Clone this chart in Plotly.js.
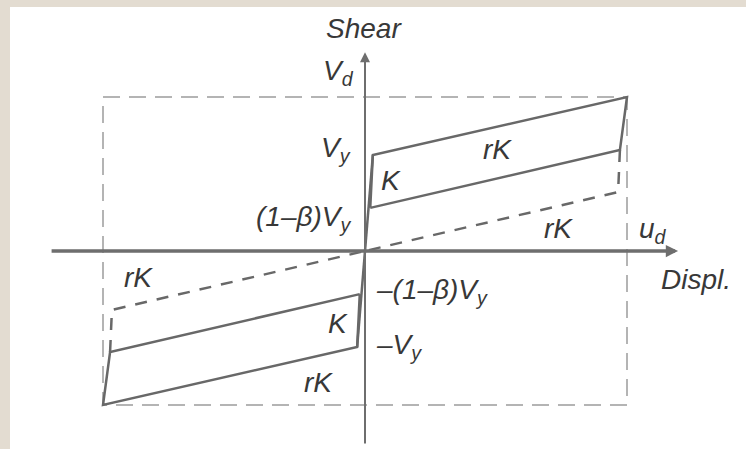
<!DOCTYPE html>
<html>
<head>
<meta charset="utf-8">
<script src="https://cdn.plot.ly/plotly-3.0.1.min.js"></script>
<style>
  html, body { margin: 0; padding: 0; background: #e3dcd1; }
  #chart { width: 746px; height: 449px; }
</style>
</head>
<body>
<div id="chart"></div>
<script>
// Bilinear hysteresis of an isolator, normalised: displacement in units of u_d,
// shear in units of V_d.
const envelopeDispl = [-1, 1, 1, -1, -1];
const envelopeShear = [1, 1, -1, -1, 1];

// Elastic branch (stiffness K) through the origin up to ±Vy
const elasticDispl = [-0.03, 0, 0.03];
const elasticShear = [-0.623, 0, 0.623];

// Positive loop: (1-β)Vy -> Vy -> (u_d, V_d) -> unload -> back along rK
const upperLoopDispl = [0.02, 0.03, 1.0, 0.973, 0.02];
const upperLoopShear = [0.28, 0.623, 1.0, 0.656, 0.28];

// Negative loop (mirror image)
const lowerLoopDispl = [-0.02, -0.03, -1.0, -0.973, -0.02];
const lowerLoopShear = [-0.28, -0.623, -1.0, -0.656, -0.28];

// Unloading to zero force, then post-yield branch rK back to the origin
const returnUpperDispl = [0.973, 0.966, 0];
const returnUpperShear = [0.656, 0.383, 0];
const returnLowerDispl = [-0.973, -0.966, 0];
const returnLowerShear = [-0.656, -0.383, 0];

const ink = '#686868';
const textInk = '#383838';
const font = { family: 'Liberation Sans, Arial, sans-serif', size: 28, color: textInk, style: 'italic' };

function path(x, y, color, width, dash) {
  return {
    type: 'scatter', mode: 'lines', x: x, y: y, hoverinfo: 'skip',
    line: { color: color, width: width, dash: dash || 'solid', shape: 'linear' }
  };
}

const traces = [
  path(envelopeDispl, envelopeShear, '#b4b4b4', 2, '17px,9px'),
  path(returnUpperDispl, returnUpperShear, ink, 2.5, '12px,10px'),
  path(returnLowerDispl, returnLowerShear, ink, 2.5, '12px,10px'),
  path(elasticDispl, elasticShear, ink, 2.5),
  path(upperLoopDispl, upperLoopShear, ink, 2.5),
  path(lowerLoopDispl, lowerLoopShear, ink, 2.5)
];

function label(text, x, y, xanchor, yanchor) {
  return {
    text: text, x: x, y: y, xref: 'x', yref: 'y',
    xanchor: xanchor || 'center', yanchor: yanchor || 'middle',
    showarrow: false, font: font
  };
}

function arrow(x, y, ax, ay, width, size) {
  return {
    text: '', x: x, y: y, ax: ax, ay: ay, xref: 'x', yref: 'y', axref: 'x', ayref: 'y',
    showarrow: true, arrowhead: 2, arrowsize: size, arrowwidth: width, arrowcolor: '#6e6e6e',
    standoff: 0, startstandoff: 0
  };
}

const annotations = [
  arrow(1.195, 0, -1.202, 0, 3.5, 0.7),
  arrow(0, 1.29, 0, -1.26, 2, 1),
  label('Shear', -0.004, 1.448),
  label('V<sub>d</sub>', -0.035, 1.156, 'right'),
  label('V<sub>y</sub>', -0.045, 0.656, 'right'),
  label('(1–β)V<sub>y</sub>', -0.045, 0.214, 'right'),
  label('K', 0.099, 0.461),
  label('rK', 0.504, 0.656),
  label('rK', 0.737, 0.149),
  label('u<sub>d</sub>', 1.04, 0.13, 'left'),
  label('Displ.', 1.263, -0.188),
  label('rK', -0.863, -0.169),
  label('–(1–β)V<sub>y</sub>', 0.035, -0.266, 'left'),
  label('K', -0.103, -0.468),
  label('–V<sub>y</sub>', 0.035, -0.623, 'left'),
  label('rK', -0.179, -0.851)
];

const layout = {
  width: 746, height: 449,
  margin: { l: 10, r: 0, t: 7, b: 0, pad: 0 },
  paper_bgcolor: '#e3dcd1',
  plot_bgcolor: '#ffffff',
  showlegend: false,
  xaxis: { range: [-1.355, 1.4542], visible: false, fixedrange: true },
  yaxis: { range: [-1.2857, 1.5844], visible: false, fixedrange: true },
  annotations: annotations
};

Plotly.newPlot('chart', traces, layout, { staticPlot: true, displayModeBar: false });
</script>
</body>
</html>
